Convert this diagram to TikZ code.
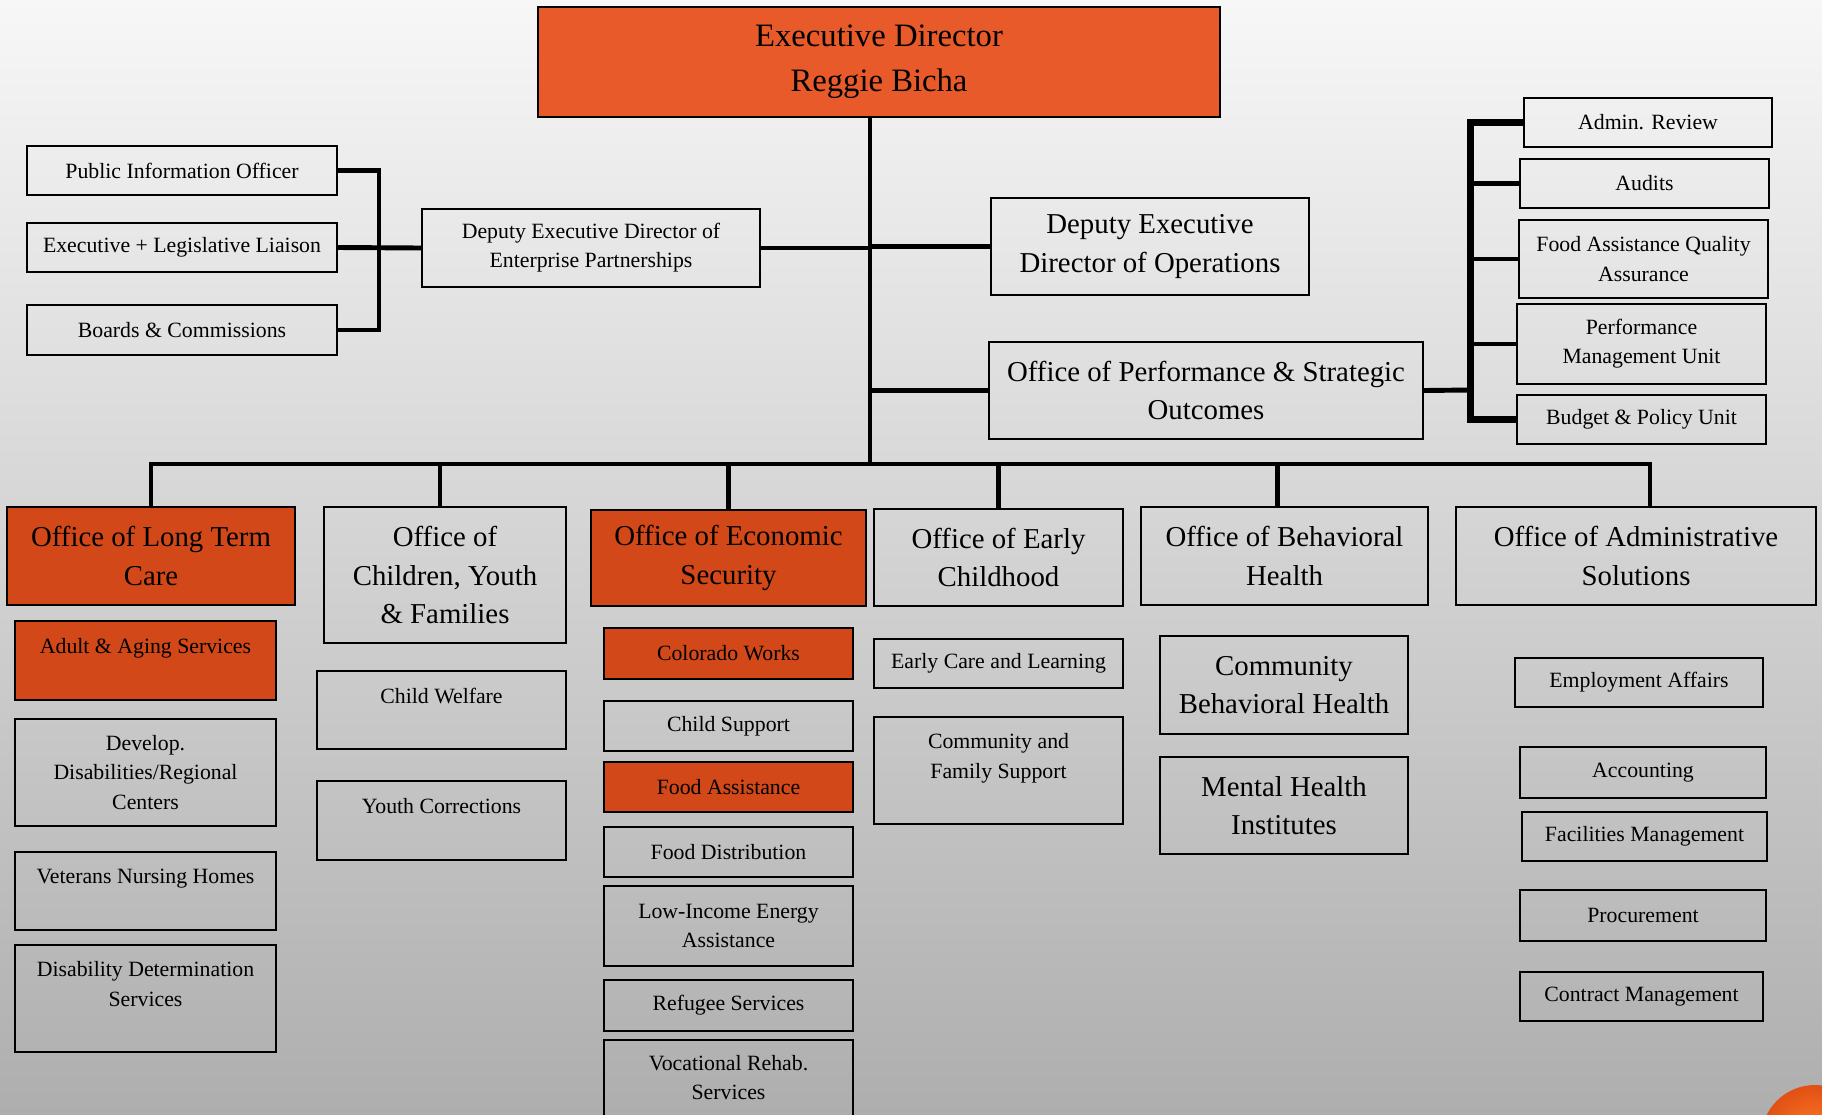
\documentclass[tikz,border=0pt]{standalone}
\usepackage{fontspec}
\setmainfont{Liberation Serif}

\definecolor{chieforange}{RGB}{232,90,41}
\definecolor{deptorange}{RGB}{210,72,24}
\newcommand{\unitfont}{\fontsize{6.2}{8.3}\selectfont}
\newcommand{\officefont}{\fontsize{8.2}{10.9}\selectfont}
\newcommand{\chieffont}{\fontsize{9.3}{12.8}\selectfont}

\begin{document}
\begin{tikzpicture}[auto]
  \tikzset{
    unit/.style={rectangle, draw=black, fill=none, line width=0.6pt,
      inner sep=1pt, align=center, font=\unitfont},
    office/.style={unit, font=\officefont},
    hot/.style={fill=deptorange},
    dims/.style 2 args={minimum width=#1cm, minimum height=#2cm},
    link/.style={line width=1.4pt, draw=black}
  }

  \useasboundingbox (0,0) rectangle (18.22,-11.14);
  % backdrop
  \shade[top color={rgb,255:red,247;green,247;blue,247},
    middle color={rgb,255:red,225;green,225;blue,225},
    bottom color={rgb,255:red,174;green,174;blue,174}]
    (0,0) rectangle (18.22,-11.14);
  \shade[inner color={rgb,255:red,255;green,125;blue,40},
    outer color={rgb,255:red,225;green,80;blue,20}]
    (18.15,-11.39) circle (0.54);

  % top level
  \node[office, fill=chieforange, dims={6.82}{1.10}, font=\chieffont] (exec) at (8.79,-0.62) {Executive Director\\Reggie Bicha};

  \node[unit, dims={3.10}{0.49}] (pio) at (1.82,-1.705) {Public Information Officer};
  \node[unit, dims={3.10}{0.49}] (ell) at (1.82,-2.475) {Executive + Legislative Liaison};
  \node[unit, dims={3.10}{0.50}] (boards) at (1.82,-3.30) {Boards \& Commissions};
  \node[unit, dims={3.38}{0.78}] (dedep) at (5.91,-2.48) {Deputy Executive Director of\\Enterprise Partnerships};
  \node[office, dims={3.18}{0.97}] (dedo) at (11.50,-2.465) {Deputy Executive\\Director of Operations};
  \node[office, dims={4.34}{0.97}] (opso) at (12.06,-3.905) {Office of Performance \& Strategic\\Outcomes};

  \node[unit, dims={2.48}{0.49}] (admin) at (16.48,-1.225) {Admin. Review};
  \node[unit, dims={2.49}{0.49}] (audits) at (16.445,-1.835) {Audits};
  \node[unit, dims={2.49}{0.78}] (faqa) at (16.435,-2.59) {Food Assistance Quality\\Assurance};
  \node[unit, dims={2.49}{0.80}] (pmu) at (16.415,-3.44) {Performance\\Management Unit};
  \node[unit, dims={2.49}{0.49}] (budget) at (16.415,-4.195) {Budget \& Policy Unit};

  % offices
  \node[office, hot, dims={2.88}{0.98}] (oltc) at (1.51,-5.56) {Office of Long Term\\Care};
  \node[office, dims={2.42}{1.36}] (ocyf) at (4.45,-5.75) {Office of\\Children, Youth\\\& Families};
  \node[office, hot, dims={2.75}{0.96}] (oes) at (7.285,-5.58) {Office of Economic\\Security};
  \node[office, dims={2.49}{0.97}] (oec) at (9.985,-5.575) {Office of Early\\Childhood};
  \node[office, dims={2.87}{0.98}] (obh) at (12.845,-5.56) {Office of Behavioral\\Health};
  \node[office, dims={3.60}{0.98}] (oas) at (16.36,-5.56) {Office of Administrative\\Solutions};

  % long term care
  \node[unit, hot, dims={2.61}{0.79}] (adult) at (1.455,-6.605) {Adult \& Aging Services\\\mbox{}};
  \node[unit, dims={2.61}{1.07}] (devdis) at (1.455,-7.725) {Develop.\\Disabilities/Regional\\Centers};
  \node[unit, dims={2.61}{0.78}] (vets) at (1.455,-8.91) {Veterans Nursing Homes\\\mbox{}};
  \node[unit, dims={2.61}{1.07}] (disdet) at (1.455,-9.985) {Disability Determination\\Services\\\mbox{}};

  % children, youth
  \node[unit, dims={2.49}{0.78}] (welfare) at (4.415,-7.10) {Child Welfare\\\mbox{}};
  \node[unit, dims={2.49}{0.79}] (youthcor) at (4.415,-8.205) {Youth Corrections\\\mbox{}};

  % economic security
  \node[unit, hot, dims={2.49}{0.51}] (cowork) at (7.285,-6.535) {Colorado Works};
  \node[unit, dims={2.49}{0.50}] (support) at (7.285,-7.26) {Child Support};
  \node[unit, hot, dims={2.49}{0.50}] (foodasst) at (7.285,-7.87) {Food Assistance};
  \node[unit, dims={2.49}{0.50}] (fooddist) at (7.285,-8.52) {Food Distribution};
  \node[unit, dims={2.49}{0.80}] (energy) at (7.285,-9.26) {Low-Income Energy\\Assistance};
  \node[unit, dims={2.49}{0.51}] (refugee) at (7.285,-10.055) {Refugee Services};
  \node[unit, dims={2.49}{1.04}] (vocrehab) at (7.285,-10.92) {Vocational Rehab.\\Services\\\mbox{}};

  % early childhood
  \node[unit, dims={2.49}{0.49}] (earlycare) at (9.985,-6.635) {Early Care and Learning};
  \node[unit, dims={2.49}{1.07}] (famsup) at (9.985,-7.705) {Community and\\Family Support\\\mbox{}};

  % behavioral health
  \node[office, dims={2.48}{0.98}] (cbh) at (12.84,-6.85) {Community\\Behavioral Health};
  \node[office, dims={2.48}{0.97}] (mhi) at (12.84,-8.055) {Mental Health\\Institutes};

  % administrative solutions
  \node[unit, dims={2.48}{0.49}] (employ) at (16.39,-6.825) {Employment Affairs};
  \node[unit, dims={2.46}{0.51}] (acct) at (16.43,-7.725) {Accounting};
  \node[unit, dims={2.45}{0.49}] (facil) at (16.445,-8.365) {Facilities Management};
  \node[unit, dims={2.46}{0.51}] (procure) at (16.43,-9.155) {Procurement};
  \node[unit, dims={2.43}{0.49}] (contract) at (16.415,-9.965) {Contract Management};

  % connectors
  \coordinate (hub) at (8.70,-4.64);
  \coordinate (lbar) at (3.79,-2.48);
  \coordinate (rbar) at (14.70,-3.90);

  \draw[link] (exec.south -| hub) -- (hub);
  \draw[link] (dedep.east) -- (dedep.east -| hub);
  \draw[link] (dedo.west -| hub) -- (dedo.west);
  \draw[link] (opso.west -| hub) -- (opso.west);

  \draw[link] (pio.east) -- (pio.east -| lbar) -- (boards.east -| lbar) -- (boards.east);
  \draw[link] (ell.east) -- (dedep.west);

  \draw[link, line width=2pt] (admin.west) -- (admin.west -| rbar) -- (budget.west -| rbar) -- (budget.west);
  \draw[link] (opso.east) -- (rbar);
  \foreach \u in {audits, faqa, pmu}
    \draw[link] (\u.west -| rbar) -- (\u.west);

  \coordinate (ocyfdrop) at ([xshift=-0.5mm]ocyf.north);
  \coordinate (obhdrop) at ([xshift=-0.7mm]obh.north);
  \coordinate (oasdrop) at ([xshift=1.4mm]oas.north);
  \draw[link, line cap=rect] (oltc.north |- hub) -- (oasdrop |- hub);
  \foreach \d in {oltc.north, ocyfdrop, oes.north, oec.north, obhdrop, oasdrop}
    \draw[link] (\d |- hub) -- (\d);
\end{tikzpicture}
\end{document}
